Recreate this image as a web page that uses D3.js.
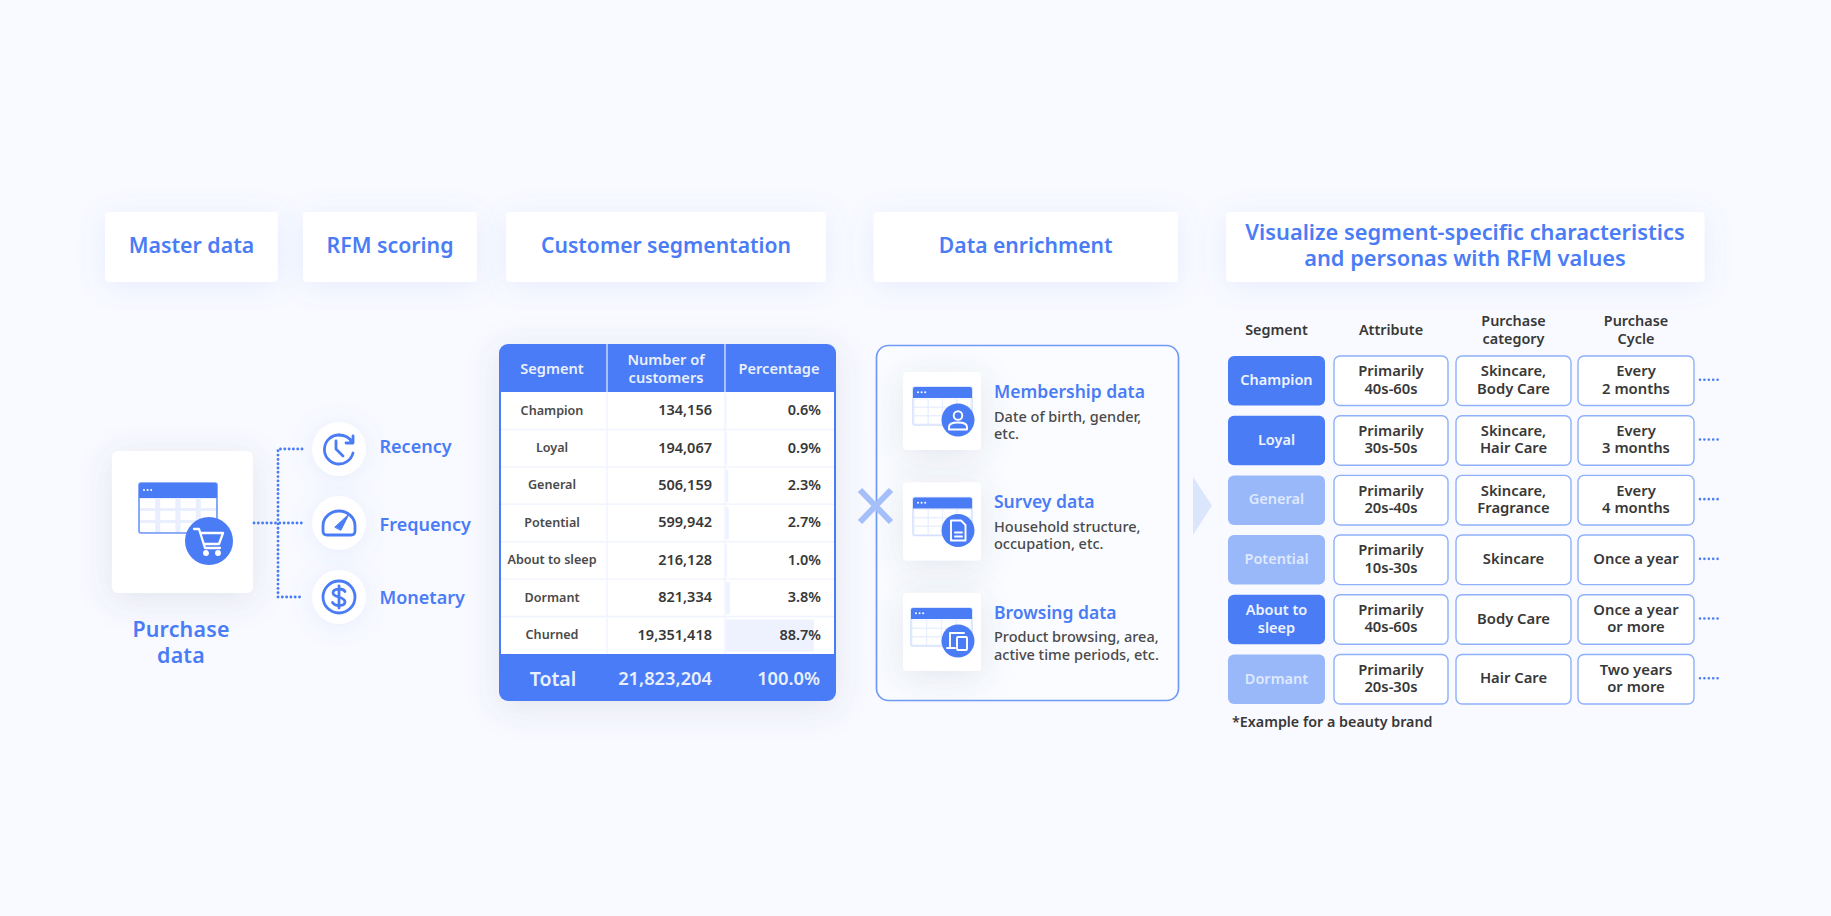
<!DOCTYPE html>
<html>
<head>
<meta charset="utf-8">
<script src="https://cdn.jsdelivr.net/npm/d3@7/dist/d3.min.js"></script>
<style>
html,body{margin:0;padding:0;background:#f9faff;overflow:hidden}
svg{display:block}
text{font-family:"Noto Sans","Open Sans",sans-serif}
</style>
</head>
<body>
<svg id="c" width="1831" height="916"></svg>
<script>
// ---- data ----
const stepTitles = ["Master data","RFM scoring","Customer segmentation","Data enrichment"];
const visualizeTitle = ["Visualize segment-specific characteristics","and personas with RFM values"];
const sourceTitle = ["Purchase","data"];
const rfmLabels = ["Recency","Frequency","Monetary"];
const segments = ["Champion","Loyal","General","Potential","About to sleep","Dormant","Churned"];
const customers = [134156,194067,506159,599942,216128,821334,19351418];
const percentages = [0.6,0.9,2.3,2.7,1.0,3.8,88.7];
const segmentHeaders = ["Segment",["Number of","customers"],"Percentage"];
const totalLabel = "Total";
const totalCustomers = 21823204;
const totalPercent = 100.0;
const enrichTitles = ["Membership data","Survey data","Browsing data"];
const enrichNotes = [["Date of birth, gender,","etc."],["Household structure,","occupation, etc."],["Product browsing, area,","active time periods, etc."]];
const profileHeaders = [["Segment"],["Attribute"],["Purchase","category"],["Purchase","Cycle"]];
const profileSegments = [["Champion"],["Loyal"],["General"],["Potential"],["About to","sleep"],["Dormant"]];
const profileActive = [true,true,false,false,true,false];
const profileAttribute = [["Primarily","40s-60s"],["Primarily","30s-50s"],["Primarily","20s-40s"],["Primarily","10s-30s"],["Primarily","40s-60s"],["Primarily","20s-30s"]];
const profileCategory = [["Skincare,","Body Care"],["Skincare,","Hair Care"],["Skincare,","Fragrance"],["Skincare"],["Body Care"],["Hair Care"]];
const profileCycle = [["Every","2 months"],["Every","3 months"],["Every","4 months"],["Once a year"],["Once a year","or more"],["Two years","or more"]];
const footnote = "*Example for a beauty brand";

// ---- drawing ----
const BLUE="#4a7cf6", LIGHT="#99b8fa", INK="#383838", GREY="#4a4a4a";
const svg=d3.select("#c");
const defs=svg.append("defs");
function shadow(id,dy,blur,col,op){
  const f=defs.append("filter").attr("id",id).attr("x","-40%").attr("y","-40%").attr("width","180%").attr("height","180%");
  f.append("feDropShadow").attr("dx",0).attr("dy",dy).attr("stdDeviation",blur).attr("flood-color",col).attr("flood-opacity",op);
}
shadow("s1",4,14,"#5b86f0",.12);
shadow("s2",6,16,"#48587a",.14);
shadow("s3",2,12,"#5b86f0",.12);
svg.append("rect").attr("width",1831).attr("height",916).attr("fill","#f9faff");

function lines(g,arr,cx,cy,lh,o){
  const n=arr.length;
  arr.forEach((t,i)=>{
    g.append("text").text(t).attr("x",cx).attr("y",cy+(i-(n-1)/2)*lh)
     .attr("dy",".35em").attr("text-anchor",o.anchor||"middle")
     .attr("font-size",o.size).attr("font-weight",o.weight||600).attr("fill",o.fill);
  });
}

// step headers
const stepX=[[105,278],[303,477],[506,826],[873.5,1178]];
const stepSize=[21.3,21.3,21.1,21.1];
const hdr=svg.append("g");
hdr.selectAll("rect").data(stepTitles).join("rect")
  .attr("x",(d,i)=>stepX[i][0]).attr("y",212).attr("width",(d,i)=>stepX[i][1]-stepX[i][0]).attr("height",70)
  .attr("rx",4).attr("fill","#fff").attr("filter","url(#s1)");
hdr.selectAll("text").data(stepTitles).join("text").text(d=>d)
  .attr("x",(d,i)=>(stepX[i][0]+stepX[i][1])/2).attr("y",245.5).attr("dy",".35em")
  .attr("text-anchor","middle").attr("font-size",(d,i)=>stepSize[i]).attr("font-weight",600).attr("fill",BLUE);
hdr.append("rect").attr("x",1226).attr("y",212).attr("width",478.5).attr("height",70).attr("rx",4).attr("fill","#fff").attr("filter","url(#s1)");
lines(hdr,visualizeTitle,1465,245.5,26,{size:21.8,fill:BLUE});

// small table icon
function tableIcon(g,x,y,w,h,head,dense){
  g.append("rect").attr("x",x).attr("y",y).attr("width",w).attr("height",h).attr("rx",2)
    .attr("fill",dense?"#e9effe":"#fff").attr("stroke",dense?"#6d96f8":"#d4e0fd").attr("stroke-width",1.6);
  const cols=4, rows=3, hh=head;
  const xs=d3.scaleBand().domain(d3.range(cols)).range([x+1,x+w-1]).paddingInner(dense?.25:.03);
  const ys=d3.scaleBand().domain(d3.range(rows)).range([y+hh+1,y+h-1]).paddingInner(dense?.25:.06);
  d3.range(rows).forEach(r=>d3.range(cols).forEach(c=>{
    g.append("rect").attr("x",xs(c)).attr("y",ys(r)).attr("width",xs.bandwidth()).attr("height",ys.bandwidth())
     .attr("fill","#fff").attr("stroke",dense?"none":"#e6edfe").attr("stroke-width",.8);
  }));
  g.append("path").attr("d",`M${x},${y+hh}V${y+2}a2,2 0 0 1 2,-2H${x+w-2}a2,2 0 0 1 2,2V${y+hh}Z`).attr("fill",BLUE);
  g.selectAll(null).data([0,1,2]).join("circle").attr("cx",d=>x+5+d*3.6).attr("cy",y+hh*.47).attr("r",1).attr("fill","#fff");
}

// purchase data card + connector
const src=svg.append("g");
src.append("rect").attr("x",112).attr("y",451).attr("width",141).attr("height",142).attr("rx",6).attr("fill","#fff").attr("filter","url(#s2)");
tableIcon(src,139,483,78,50,15,true);
src.append("circle").attr("cx",209).attr("cy",541).attr("r",24).attr("fill",BLUE);
const cart=src.append("g").attr("transform","translate(209,541)").attr("fill","none").attr("stroke","#fff").attr("stroke-width",2.3).attr("stroke-linejoin","round").attr("stroke-linecap","round");
cart.append("path").attr("d","M-15,-12H-10L-4,7H11M-8.5,-8H14L10,3H-5");
cart.selectAll(null).data([-3,9]).join("circle").attr("cx",d=>d).attr("cy",12).attr("r",1.8).attr("fill","#fff");
src.selectAll(".st").data(sourceTitle).join("text").attr("class","st").text(d=>d)
  .attr("x",181).attr("y",(d,i)=>636.5+i*26.5).attr("text-anchor","middle")
  .attr("font-size",21.4).attr("letter-spacing",.2).attr("font-weight",600).attr("fill",BLUE);

const rfmY=d3.scalePoint().domain(rfmLabels).range([449,597]);
const rfmTextShift=[-2.5,1.5,0.5];
const conn=svg.append("g").attr("fill","none").attr("stroke",BLUE).attr("stroke-width",2.9).attr("stroke-linecap","round").attr("stroke-dasharray","0 4.3");
conn.append("path").attr("d",`M302,${rfmY("Recency")}H278V${rfmY("Monetary")}H302`);
conn.append("path").attr("d",`M254,${rfmY("Frequency")}H302`);

const rfm=svg.append("g").selectAll("g").data(rfmLabels).join("g").attr("transform",d=>`translate(339,${rfmY(d)})`);
rfm.append("circle").attr("r",27).attr("fill","#fff").attr("filter","url(#s3)");
rfm.append("text").text(d=>d).attr("x",40.5).attr("y",(d,i)=>rfmTextShift[i]).attr("dy",".35em").attr("font-size",18).attr("font-weight",600).attr("fill",BLUE);
const ic=rfm.append("g").attr("fill","none").attr("stroke",BLUE).attr("stroke-width",2.8).attr("stroke-linecap","round").attr("stroke-linejoin","round");
ic.filter((d,i)=>i===0).each(function(){const g=d3.select(this);
  g.append("path").attr("d","M0,-14A14.5,14.5 0 1 0 14,4");
  g.append("path").attr("d","M0,-14C6,-14 10,-12 13,-7M14,-13V-6H7");
  g.append("path").attr("d","M-3,-8V0L4,7");
});
ic.filter((d,i)=>i===1).each(function(){const g=d3.select(this);
  g.append("path").attr("d","M-12,12H12Q16,12 16,8V3A16,15 0 0 0 -16,3V8Q-16,12 -12,12Z");
  g.append("path").attr("d","M-4,4L10,-9L2,7Z").attr("fill",BLUE).attr("stroke-width",1);
});
ic.filter((d,i)=>i===2).each(function(){const g=d3.select(this);
  g.append("circle").attr("r",16);
  g.append("path").attr("d","M6,-5.5C4,-9 -6,-9 -6,-4C-6,1 6,-1 6,5C6,9.5 -4,9.5 -6.5,5.5M0,-11V11");
});

// segmentation table
const T={x0:499,x1:836,top:344,bot:701,rowTop:392,rowBot:654};
const cols=[501,607,725,834];
const rowS=d3.scaleBand().domain(segments).range([T.rowTop,T.rowBot]);
const barX=d3.scaleLinear().domain([0,100]).range([726,825]);
const fmtN=d3.format(","), fmtP=d3.format(".1f");
const tb=svg.append("g");
tb.append("rect").attr("x",T.x0).attr("y",T.top).attr("width",T.x1-T.x0).attr("height",T.bot-T.top).attr("rx",9).attr("fill",BLUE).attr("filter","url(#s2)");
tb.append("rect").attr("x",cols[0]).attr("y",T.rowTop).attr("width",cols[3]-cols[0]).attr("height",T.rowBot-T.rowTop).attr("fill","#fff");
tb.selectAll(".bar").data(segments).join("rect").attr("class","bar")
  .attr("x",barX(0)).attr("y",d=>rowS(d)+3).attr("height",rowS.bandwidth()-5.5)
  .attr("width",(d,i)=>barX(percentages[i])-barX(0)).attr("fill","#eef2fe");
tb.selectAll(".rl").data(segments.slice(1)).join("line").attr("class","rl")
  .attr("x1",cols[0]).attr("x2",cols[3]).attr("y1",d=>rowS(d)).attr("y2",d=>rowS(d)).attr("stroke","#f0f4ff").attr("stroke-width",1.4);
[cols[1],cols[2]].forEach(x=>{
  tb.append("line").attr("x1",x).attr("x2",x).attr("y1",T.rowTop).attr("y2",T.rowBot).attr("stroke","#f0f4ff").attr("stroke-width",1.4);
  tb.append("line").attr("x1",x).attr("x2",x).attr("y1",T.top).attr("y2",T.rowTop).attr("stroke","#e8eeff").attr("stroke-width",1.2);
});
const rowY=d=>rowS(d)+rowS.bandwidth()/2-0.6;
tb.selectAll(".sl").data(segments).join("text").attr("class","sl").text(d=>d)
  .attr("x",552).attr("y",rowY).attr("dy",".35em").attr("text-anchor","middle").attr("font-size",12.6).attr("font-weight",600).attr("fill",GREY);
tb.selectAll(".cu").data(customers).join("text").attr("class","cu").text(d=>fmtN(d))
  .attr("x",712).attr("y",(d,i)=>rowY(segments[i])).attr("dy",".35em").attr("text-anchor","end").attr("font-size",14.5).attr("font-weight",600).attr("fill",INK);
tb.selectAll(".pc").data(percentages).join("text").attr("class","pc").text(d=>fmtP(d)+"%")
  .attr("x",821).attr("y",(d,i)=>rowY(segments[i])).attr("dy",".35em").attr("text-anchor","end").attr("font-size",14.5).attr("font-weight",600).attr("fill",INK);
const hc=[552,666,779];
segmentHeaders.forEach((h,i)=>lines(tb,[].concat(h),hc[i],368.5,18,{size:14.6,weight:600,fill:"#e9efff"}));
lines(tb,[totalLabel],553,679,0,{size:19.5,fill:"#e9efff"});
lines(tb,[fmtN(totalCustomers)],712,679,0,{size:18.3,anchor:"end",weight:600,fill:"#e9efff"});
lines(tb,[fmtP(totalPercent)+"%"],820,679,0,{size:18.3,anchor:"end",weight:600,fill:"#e9efff"});

// enrichment box
const en=svg.append("g");
en.append("rect").attr("x",876.5).attr("y",345.5).attr("width",302).attr("height",355).attr("rx",12).attr("fill","#fbfcff").attr("stroke","#6f9af8").attr("stroke-width",1.7);
const enY=d3.scaleBand().domain(enrichTitles).range([372,671]).paddingInner(.294);
const enG=en.selectAll(".e").data(enrichTitles).join("g").attr("class","e").attr("transform",d=>`translate(903,${enY(d)})`);
enG.append("rect").attr("width",78).attr("height",enY.bandwidth()).attr("rx",4).attr("fill","#fff").attr("filter","url(#s2)");
enG.each(function(d,i){tableIcon(d3.select(this),i===2?8:10,15,i===2?61:59,38,11,false);});
enG.append("circle").attr("cx",55).attr("cy",48).attr("r",16.5).attr("fill",BLUE);
enG.append("text").text(d=>d).attr("x",91).attr("y",26).attr("font-size",17.5).attr("font-weight",600).attr("fill",BLUE);
const noteY=[49.5,67];
enG.each(function(d,i){
  d3.select(this).selectAll(".nt").data(enrichNotes[i]).join("text").attr("class","nt").text(t=>t)
    .attr("x",91).attr("y",(t,k)=>noteY[k]).attr("font-size",14.5).attr("font-weight",500).attr("fill",GREY);
});
const glyph=enG.append("g").attr("transform","translate(55,48)").attr("fill","none").attr("stroke","#fff").attr("stroke-width",1.9).attr("stroke-linejoin","round").attr("stroke-linecap","round");
glyph.filter((d,i)=>i===0).each(function(){const g=d3.select(this);
  g.append("circle").attr("cy",-4.5).attr("r",4.3);
  g.append("path").attr("d","M-9,9.5V7C-9,3.5 -5,2.5 0,2.5C5,2.5 9,3.5 9,7V9.5Z");
});
glyph.filter((d,i)=>i===1).each(function(){const g=d3.select(this);
  g.append("path").attr("d","M-7,-10H3L7.5,-5.5V10H-7Z");
  g.append("path").attr("d","M-3,2H4M-3,6H4");
});
glyph.filter((d,i)=>i===2).each(function(){const g=d3.select(this);
  g.append("path").attr("d","M-3,7H-11M-8,7V-8H6");
  g.append("rect").attr("x",-1).attr("y",-4).attr("width",10).attr("height",13).attr("rx",1);
});

// cross + arrow
const cross=svg.append("g").attr("stroke","#a4bffa").attr("stroke-width",6).attr("fill","none");
cross.append("path").attr("d","M860,490L891,522M891,490L860,522");
svg.append("path").attr("d","M1193,477L1212,505.5L1193,535Z").attr("fill","#dbe6fd");

// profile table
const pr=svg.append("g");
const pCols=[[1228,1325],[1334,1448],[1456,1571],[1578,1694]];
const pRow=d3.scaleBand().domain(d3.range(profileSegments.length)).range([356,704]).paddingInner(.17);
profileHeaders.forEach((h,i)=>lines(pr,h,(pCols[i][0]+pCols[i][1])/2,330,18,{size:14.4,fill:INK}));
pr.selectAll(".seg").data(profileSegments).join("rect").attr("class","seg")
  .attr("x",pCols[0][0]).attr("y",(d,i)=>pRow(i)).attr("width",pCols[0][1]-pCols[0][0]).attr("height",pRow.bandwidth())
  .attr("rx",6).attr("fill",(d,i)=>profileActive[i]?BLUE:LIGHT);
profileSegments.forEach((s,i)=>lines(pr,s,(pCols[0][0]+pCols[0][1])/2,pRow(i)+pRow.bandwidth()/2-0.8,17.5,{size:14.5,weight:600,fill:profileActive[i]?"#eef3ff":"#dfe9fe"}));
[profileAttribute,profileCategory,profileCycle].forEach((colData,c)=>{
  const [a,b]=pCols[c+1];
  pr.append("g").selectAll("rect").data(colData).join("rect")
    .attr("x",a).attr("y",(d,i)=>pRow(i)).attr("width",b-a).attr("height",pRow.bandwidth())
    .attr("rx",6).attr("fill","#fff").attr("stroke","#8fb0fa").attr("stroke-width",1.4);
  colData.forEach((s,i)=>lines(pr,s,(a+b)/2,pRow(i)+pRow.bandwidth()/2-1,17.5,{size:14.8,weight:600,fill:INK}));
});
pr.selectAll(".dots").data(profileSegments).join("line").attr("class","dots")
  .attr("x1",1700).attr("x2",1719).attr("y1",(d,i)=>pRow(i)+pRow.bandwidth()/2-1).attr("y2",(d,i)=>pRow(i)+pRow.bandwidth()/2-1)
  .attr("stroke",BLUE).attr("stroke-width",2.6).attr("stroke-linecap","round").attr("stroke-dasharray","0 4.4");
pr.append("text").text(footnote).attr("x",1232).attr("y",727).attr("font-size",14.3).attr("font-weight",600).attr("fill",INK);
</script>
</body>
</html>
